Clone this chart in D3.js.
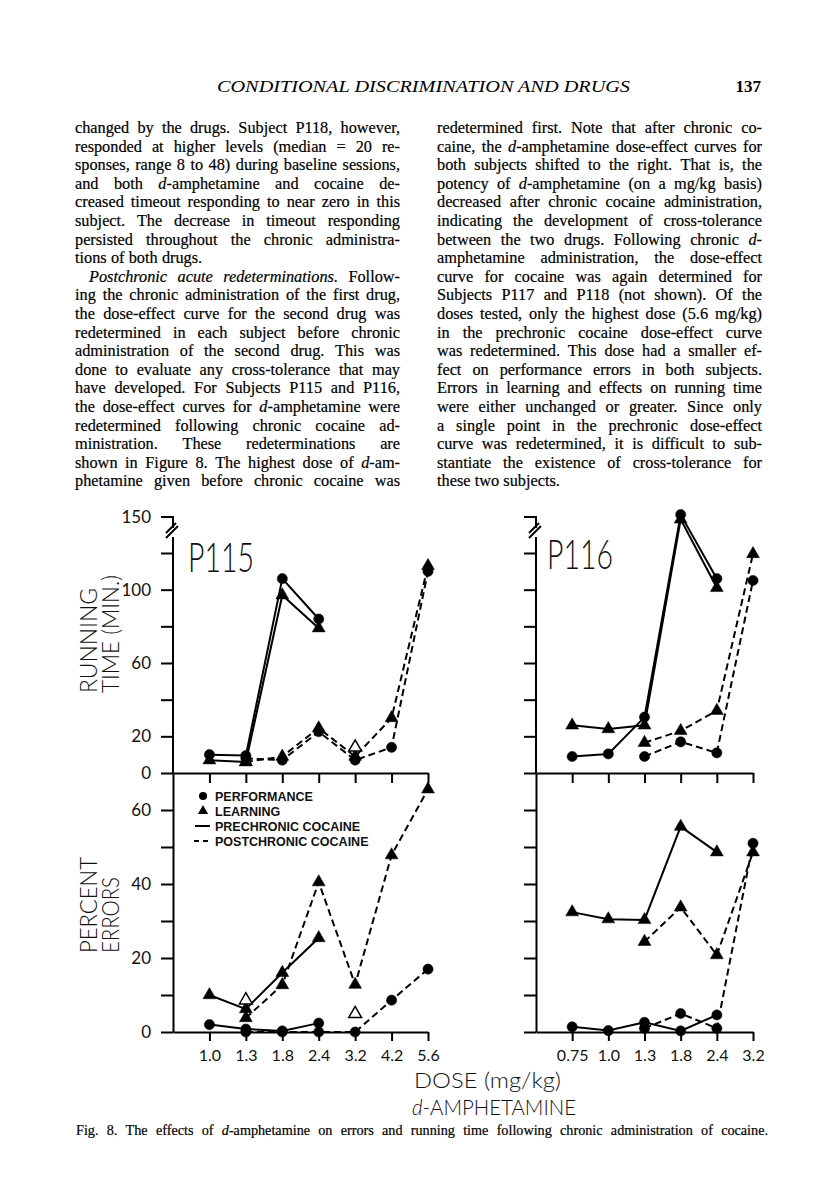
<!DOCTYPE html>
<html>
<head>
<meta charset="utf-8">
<script src="https://cdn.jsdelivr.net/npm/d3@7/dist/d3.min.js"></script>
<style>
  body { margin: 0; background: #fff; }
  svg { display: block; }
</style>
</head>
<body>
<svg id="page"></svg>
<script>
// ---- page text ----
const headerTitle = "CONDITIONAL DISCRIMINATION AND DRUGS";
const pageNumber = "137";

// _x_ marks italic; last line of a paragraph is not justified
const leftColumn = [
  "changed by the drugs. Subject P118, however,",
  "responded at higher levels (median = 20 re-",
  "sponses, range 8 to 48) during baseline sessions,",
  "and both _d_-amphetamine and cocaine de-",
  "creased timeout responding to near zero in this",
  "subject. The decrease in timeout responding",
  "persisted throughout the chronic administra-",
  "tions of both drugs.",
  "_Postchronic_ _acute_ _redeterminations._ Follow-",
  "ing the chronic administration of the first drug,",
  "the dose-effect curve for the second drug was",
  "redetermined in each subject before chronic",
  "administration of the second drug. This was",
  "done to evaluate any cross-tolerance that may",
  "have developed. For Subjects P115 and P116,",
  "the dose-effect curves for _d_-amphetamine were",
  "redetermined following chronic cocaine ad-",
  "ministration. These redeterminations are",
  "shown in Figure 8. The highest dose of _d_-am-",
  "phetamine given before chronic cocaine was"
];
const rightColumn = [
  "redetermined first. Note that after chronic co-",
  "caine, the _d_-amphetamine dose-effect curves for",
  "both subjects shifted to the right. That is, the",
  "potency of _d_-amphetamine (on a mg/kg basis)",
  "decreased after chronic cocaine administration,",
  "indicating the development of cross-tolerance",
  "between the two drugs. Following chronic _d_-",
  "amphetamine administration, the dose-effect",
  "curve for cocaine was again determined for",
  "Subjects P117 and P118 (not shown). Of the",
  "doses tested, only the highest dose (5.6 mg/kg)",
  "in the prechronic cocaine dose-effect curve",
  "was redetermined. This dose had a smaller ef-",
  "fect on performance errors in both subjects.",
  "Errors in learning and effects on running time",
  "were either unchanged or greater. Since only",
  "a single point in the prechronic dose-effect",
  "curve was redetermined, it is difficult to sub-",
  "stantiate the existence of cross-tolerance for",
  "these two subjects."
];
const paragraphEnds = ["tions of both drugs.", "these two subjects."];
const indented = [8];  // left column line index with paragraph indent
const caption = "Fig. 8. The effects of _d_-amphetamine on errors and running time following chronic administration of cocaine.";

// ---- figure data ----
const dosesP115 = ["1.0", "1.3", "1.8", "2.4", "3.2", "4.2", "5.6"];
const dosesP116 = ["0.75", "1.0", "1.3", "1.8", "2.4", "3.2"];

// running time (min)
const p115TimePrePerf  = [10, 9.5, 106, 84, null, null, null];
const p115TimePreLearn = [7, 6, 97, 79, null, null, null];
const p115TimePostPerf  = [null, 8, 7, 22.5, 7, 14, 110];
const p115TimePostLearn = [null, 6, 9, 24.5, 9, 30, 113];
const p115TimeOpen = [null, null, null, null, 14, null, null];

const p116TimePrePerf  = [9, 10.4, 30.5, 152, 106, null];
const p116TimePreLearn = [26, 24, 26, 148, 101, null];
const p116TimePostPerf  = [null, null, 9, 17, 11, 105];
const p116TimePostLearn = [null, null, 16.5, 23, 34, 119.5];
const p116TimeOpen = [null, null, null, null, null, null];

// percent errors
const p115ErrPrePerf  = [2, 0.8, 0.3, 2.4, null, null, null];
const p115ErrPreLearn = [10, 6.2, 16, 25.4, null, null, null];
const p115ErrPostPerf  = [null, 0, 0, 0, 0, 8.6, 17];
const p115ErrPostLearn = [null, 3.8, 12.7, 40.5, 12.8, 47.8, 65.6];
const p115ErrOpen = [null, 8.6, null, null, 4.9, null, null];

const p116ErrPrePerf  = [1.4, 0.4, 2.6, 0.3, 4.6, null];
const p116ErrPreLearn = [32.4, 30.5, 30.3, 55.5, 48.6, null];
const p116ErrPostPerf  = [null, null, 1, 5, 1, 51];
const p116ErrPostLearn = [null, null, 24.4, 33.7, 20.8, 48.6];
const p116ErrOpen = [null, null, null, null, null, null];

const timeTicks = [0, 20, 40, 60, 80, 100, 120];
const timeTickLabels = [0, 20, 60, 100];
const errTicks = [0, 10, 20, 30, 40, 50, 60, 70];
const errTickLabels = [0, 20, 40, 60];
const legendItems = ["PERFORMANCE", "LEARNING", "PRECHRONIC COCAINE", "POSTCHRONIC COCAINE"];

// ---- setup ----
const W = 816, H = 1200;
const serif = "'Liberation Serif', 'Times New Roman', serif";
const sans = "Lato, 'Liberation Sans', sans-serif";
const svg = d3.select("#page").attr("width", W).attr("height", H);
svg.append("rect").attr("width", W).attr("height", H).attr("fill", "#fff");

// 一行文字（逐词排版，可两端对齐；太长时缩小字号）
function drawLine(g, str, x, y, width, justify, size) {
  const words = str.split(" ");
  let fs = size;
  const nodes = words.map(w => {
    const t = g.append("text")
      .attr("y", y)
      .attr("font-family", serif)
      .attr("font-size", fs)
      .attr("fill", "#000")
      .attr("stroke", "#000")
      .attr("stroke-width", 0.2);
    w.split(/(_[^_]+_)/).filter(p => p).forEach(p => {
      const it = p.startsWith("_");
      t.append("tspan")
        .attr("font-style", it ? "italic" : null)
        .text(it ? p.slice(1, -1) : p);
    });
    return t;
  });
  let widths = nodes.map(n => n.node().getComputedTextLength());
  let total = d3.sum(widths);
  const minGap = fs * 0.2;
  const need = total + minGap * (nodes.length - 1);
  if (need > width) {
    fs = fs * (width - minGap * (nodes.length - 1)) / total;
    nodes.forEach(n => n.attr("font-size", fs));
    widths = nodes.map(n => n.node().getComputedTextLength());
    total = d3.sum(widths);
  }
  const gap = justify && nodes.length > 1 ? (width - total) / (nodes.length - 1) : fs * 0.26;
  let cx = x;
  nodes.forEach((n, i) => {
    n.attr("x", cx);
    cx += widths[i] + gap;
  });
}

// header
svg.append("text")
  .attr("x", 217).attr("y", 92)
  .attr("font-family", serif).attr("font-style", "italic")
  .attr("font-size", 17.5).attr("textLength", 413).attr("lengthAdjust", "spacingAndGlyphs")
  .attr("fill", "#000")
  .text(headerTitle);
svg.append("text")
  .attr("x", 761).attr("y", 92).attr("text-anchor", "end")
  .attr("font-family", serif).attr("font-size", 17).attr("font-weight", "bold")
  .attr("fill", "#000")
  .text(pageNumber);

// body columns
const body = svg.append("g").attr("class", "body-text");
const lineY0 = 133, lineStep = 18.6, fontSize = 16.3;
const columns = [
  { lines: leftColumn, x: 75, w: 325 },
  { lines: rightColumn, x: 437, w: 325 }
];
columns.forEach((col, ci) => {
  col.lines.forEach((ln, i) => {
    const ind = ci === 0 && indented.includes(i) ? 14 : 0;
    const just = !paragraphEnds.includes(ln);
    drawLine(body, ln, col.x + ind, lineY0 + i * lineStep, col.w - ind, just, fontSize);
  });
});

// caption
drawLine(svg.append("g"), caption, 76, 1135, 692, true, 14.2);

// ---- figure ----
const fig = svg.append("g").attr("class", "figure");
const yTime = d3.scaleLinear().domain([0, 120, 150]).range([773, 553, 517]);
const yErr = d3.scaleLinear().domain([0, 70]).range([1032, 773]);

const panels = [
  {
    name: "P115", doses: dosesP115, x0: 173, x1: 428, labels: true,
    nameX: 188, nameY: 572,
    time: [p115TimePrePerf, p115TimePreLearn, p115TimePostPerf, p115TimePostLearn, p115TimeOpen],
    err: [p115ErrPrePerf, p115ErrPreLearn, p115ErrPostPerf, p115ErrPostLearn, p115ErrOpen]
  },
  {
    name: "P116", doses: dosesP116, x0: 536, x1: 753, labels: false,
    nameX: 547, nameY: 569,
    time: [p116TimePrePerf, p116TimePreLearn, p116TimePostPerf, p116TimePostLearn, p116TimeOpen],
    err: [p116ErrPrePerf, p116ErrPreLearn, p116ErrPostPerf, p116ErrPostLearn, p116ErrOpen]
  }
];

const circleSym = d3.symbol(d3.symbolCircle, 82);
const triSym = d3.symbol(d3.symbolTriangle, 72);

function drawSeries(g, x, y, doses, values, kind, dashed) {
  const pts = doses.map((d, i) => ({ d, v: values[i] })).filter(p => p.v != null);
  if (kind !== "open" && pts.length > 1) {
    g.append("path")
      .datum(pts)
      .attr("d", d3.line().x(p => x(p.d)).y(p => y(p.v)))
      .attr("fill", "none")
      .attr("stroke", "#000")
      .attr("stroke-width", 2)
      .attr("stroke-dasharray", dashed ? "7,4" : null);
  }
  g.selectAll(null)
    .data(pts)
    .join("path")
    .attr("transform", p => `translate(${x(p.d)},${y(p.v)})`)
    .attr("d", kind === "circle" ? circleSym : triSym)
    .attr("fill", kind === "open" ? "#fff" : "#000")
    .attr("stroke", "#000")
    .attr("stroke-width", kind === "open" ? 1.5 : 0.5);
}

function styleAxis(sel) {
  sel.selectAll("path, line").attr("stroke", "#000").attr("stroke-width", 2);
  sel.selectAll("text").attr("font-family", sans).attr("font-size", 17).attr("fill", "#111");
}

panels.forEach(p => {
  const x = d3.scalePoint().domain(["", ...p.doses]).range([p.x0, p.x1]);
  const g = fig.append("g").attr("class", `panel-${p.name}`);

  // y axis, running time (with break)
  const yAxT = d3.axisLeft(yTime).tickValues(timeTicks).tickSize(12).tickPadding(10).tickSizeOuter(0)
    .tickFormat(d => p.labels && timeTickLabels.includes(d) ? d : "");
  const gyT = g.append("g").attr("transform", `translate(${p.x0},0)`).call(yAxT);
  gyT.select(".domain").remove();
  styleAxis(gyT);
  const top = yTime(150);
  g.append("path")
    .attr("d", `M${p.x0},773V537 M${p.x0 - 12},${top}H${p.x0}V${top + 11} M${p.x0 - 7},${top + 21}L${p.x0 + 5},${top + 9} M${p.x0 - 7},${top + 16}L${p.x0 + 3},${top + 6}`)
    .attr("fill", "none").attr("stroke", "#000").attr("stroke-width", 2);
  if (p.labels) {
    g.append("text").attr("x", p.x0 - 22).attr("y", top).attr("dy", "0.36em")
      .attr("text-anchor", "end").attr("font-family", sans).attr("font-size", 17).attr("fill", "#111")
      .text("150");
  }

  // y axis, percent errors
  const yAxE = d3.axisLeft(yErr).tickValues(errTicks).tickSize(12).tickPadding(10).tickSizeOuter(0)
    .tickFormat(d => p.labels && errTickLabels.includes(d) ? d : "");
  const gyE = g.append("g").attr("transform", `translate(${p.x0},0)`).call(yAxE);
  styleAxis(gyE);
  gyE.selectAll(".tick").filter(d => d === 70).select("line").remove();

  // x axes
  const xAxTop = d3.axisBottom(x).tickValues(p.doses).tickSize(10).tickSizeOuter(0).tickFormat("");
  styleAxis(g.append("g").attr("transform", "translate(0,773)").call(xAxTop));
  const xAxBot = d3.axisBottom(x).tickValues(p.doses).tickSize(9).tickPadding(9).tickSizeOuter(0);
  const gxB = g.append("g").attr("transform", "translate(0,1032)").call(xAxBot);
  styleAxis(gxB);
  gxB.selectAll("text").attr("font-size", 16);

  // panel name
  g.append("text")
    .attr("x", p.nameX).attr("y", p.nameY)
    .attr("font-family", sans).attr("font-weight", 300).attr("font-size", 42)
    .attr("textLength", 66).attr("lengthAdjust", "spacingAndGlyphs")
    .attr("fill", "#111")
    .text(p.name);

  // series: pre solid, post dashed
  [["time", yTime], ["err", yErr]].forEach(([key, y]) => {
    const [prePerf, preLearn, postPerf, postLearn, open] = p[key];
    const gs = g.append("g").attr("class", `series-${key}`);
    drawSeries(gs, x, y, p.doses, prePerf, "circle", false);
    drawSeries(gs, x, y, p.doses, preLearn, "triangle", false);
    drawSeries(gs, x, y, p.doses, postPerf, "circle", true);
    drawSeries(gs, x, y, p.doses, postLearn, "triangle", true);
    drawSeries(gs, x, y, p.doses, open, "open", true);
  });
});

// axis titles
function vText(txt, x, y, len) {
  fig.append("text")
    .attr("transform", `translate(${x},${y}) rotate(-90)`)
    .attr("font-family", sans).attr("font-weight", 300).attr("font-size", 23)
    .attr("textLength", len).attr("lengthAdjust", "spacingAndGlyphs")
    .attr("fill", "#111")
    .text(txt);
}
vText("RUNNING", 97, 693, 105);
vText("TIME (MIN.)", 119, 693, 118);
vText("PERCENT", 97, 953, 96);
vText("ERRORS", 119, 953, 76);

fig.append("text")
  .attr("x", 414).attr("y", 1088)
  .attr("font-family", sans).attr("font-weight", 300).attr("font-size", 21)
  .attr("textLength", 147).attr("lengthAdjust", "spacingAndGlyphs")
  .attr("fill", "#111")
  .text("DOSE (mg/kg)");
const amph = fig.append("text")
  .attr("x", 412).attr("y", 1115)
  .attr("font-family", sans).attr("font-weight", 300).attr("font-size", 21)
  .attr("textLength", 164).attr("lengthAdjust", "spacingAndGlyphs")
  .attr("fill", "#111");
amph.append("tspan").attr("font-style", "italic").text("d");
amph.append("tspan").text("-AMPHETAMINE");

// legend
const lg = fig.append("g").attr("class", "legend");
const legY = [796, 811, 826, 841];
lg.append("path").attr("transform", `translate(203,${legY[0]})`).attr("d", d3.symbol(d3.symbolCircle, 50)).attr("fill", "#000");
lg.append("path").attr("transform", `translate(203,${legY[1]})`).attr("d", d3.symbol(d3.symbolTriangle, 45)).attr("fill", "#000");
lg.append("line").attr("x1", 195).attr("x2", 210).attr("y1", legY[2]).attr("y2", legY[2])
  .attr("stroke", "#000").attr("stroke-width", 2);
lg.append("line").attr("x1", 194).attr("x2", 211).attr("y1", legY[3]).attr("y2", legY[3])
  .attr("stroke", "#000").attr("stroke-width", 2).attr("stroke-dasharray", "5,4");
lg.selectAll("text")
  .data(legendItems)
  .join("text")
  .attr("x", 215)
  .attr("y", (d, i) => legY[i] + 5)
  .attr("font-family", "'Liberation Sans', Arial, sans-serif")
  .attr("font-weight", "bold")
  .attr("font-size", 12.5)
  .attr("fill", "#111")
  .text(d => d);
</script>
</body>
</html>
